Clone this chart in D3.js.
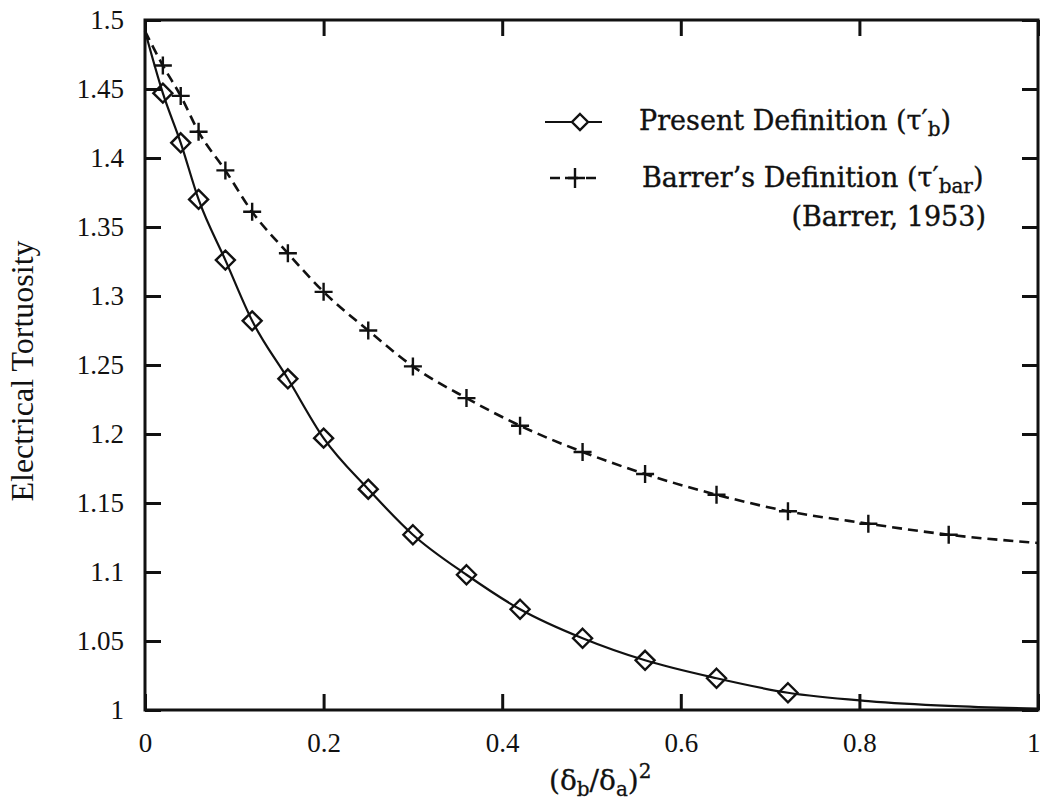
<!DOCTYPE html>
<html>
<head>
<meta charset="utf-8">
<script src="https://cdn.jsdelivr.net/npm/d3@7/dist/d3.min.js"></script>
<style>
  html, body { margin: 0; padding: 0; background: #fff; }
  svg { display: block; }
</style>
</head>
<body>
<svg id="chart" width="1041" height="806"></svg>
<script>
// Squared thickness ratio (δb/δa)^2 at which the tortuosity was evaluated
const ratioSq = [0, 0.02, 0.04, 0.06, 0.09, 0.12, 0.16, 0.2, 0.25, 0.3, 0.36, 0.42, 0.49, 0.56, 0.64, 0.72, 0.81, 0.9, 1.0];
// Present definition τ'_b
const presentTau = [1.492, 1.447, 1.411, 1.370, 1.326, 1.282, 1.240, 1.197, 1.160, 1.127, 1.098, 1.073, 1.052, 1.036, 1.023, 1.0125, 1.0065, 1.003, 1.001];
// Barrer's definition τ'_bar (Barrer, 1953)
const barrerTau = [1.492, 1.467, 1.445, 1.419, 1.391, 1.361, 1.331, 1.303, 1.275, 1.249, 1.226, 1.206, 1.187, 1.171, 1.156, 1.144, 1.135, 1.127, 1.121];
// Which samples carry a plotted symbol
const presentMarked = [false, true, true, true, true, true, true, true, true, true, true, true, true, true, true, true, false, false, false];
const barrerMarked  = [false, true, true, true, true, true, true, true, true, true, true, true, true, true, true, true, true, true, false];

const xTicks = [0, 0.2, 0.4, 0.6, 0.8, 1];
const yTicks = [1, 1.05, 1.1, 1.15, 1.2, 1.25, 1.3, 1.35, 1.4, 1.45, 1.5];
const xTickLabels = ["0", "0.2", "0.4", "0.6", "0.8", "1"];
const yTickLabels = ["1", "1.05", "1.1", "1.15", "1.2", "1.25", "1.3", "1.35", "1.4", "1.45", "1.5"];

const svg = d3.select("#chart");
const m = { left: 145, right: 1038, top: 20, bottom: 710 };

const x = d3.scaleLinear().domain([0, 1]).range([m.left, m.right]);
const y = d3.scaleLinear().domain([1, 1.5]).range([m.bottom, m.top]);

const tickFont = "'Liberation Serif', 'Times New Roman', serif";
const legendFont = "'DejaVu Serif', serif";
const ink = "#111";
const tickLen = 16;

// Axes: ticks drawn inward on all four sides
const axisG = svg.append("g");
function styleAxis(g) {
  g.select(".domain").remove();
  g.selectAll(".tick line").attr("stroke", ink).attr("stroke-width", 3);
  g.selectAll(".tick text").attr("font-family", tickFont).attr("font-size", 27).attr("fill", ink);
}
const bottomAxis = axisG.append("g").attr("transform", `translate(0,${m.bottom})`)
  .call(d3.axisBottom(x).tickValues(xTicks).tickFormat((d, i) => xTickLabels[i]).tickSizeInner(-tickLen).tickPadding(23))
  .call(styleAxis);
// the last label sits at the page edge; keep it inside the page
bottomAxis.selectAll(".tick text").filter(d => d === 1)
  .attr("text-anchor", "end").attr("x", 1041 - m.right - 1);
axisG.append("g").attr("transform", `translate(0,${m.top})`)
  .call(d3.axisTop(x).tickValues(xTicks).tickFormat("").tickSizeInner(-tickLen))
  .call(styleAxis);
axisG.append("g").attr("transform", `translate(${m.left},0)`)
  .call(d3.axisLeft(y).tickValues(yTicks).tickFormat((d, i) => yTickLabels[i]).tickSizeInner(-tickLen).tickPadding(21))
  .call(styleAxis);
axisG.append("g").attr("transform", `translate(${m.right},0)`)
  .call(d3.axisRight(y).tickValues(yTicks).tickFormat("").tickSizeInner(-tickLen))
  .call(styleAxis);

// Plot frame
svg.append("rect")
  .attr("x", m.left).attr("y", m.top)
  .attr("width", m.right - m.left).attr("height", m.bottom - m.top)
  .attr("fill", "none").attr("stroke", ink).attr("stroke-width", 3);

// Curves
const line = d3.line().x(d => x(d[0])).y(d => y(d[1])).curve(d3.curveMonotoneX);
const presentPts = ratioSq.map((r, i) => [r, presentTau[i]]);
const barrerPts = ratioSq.map((r, i) => [r, barrerTau[i]]);

svg.append("path").datum(barrerPts).attr("d", line)
  .attr("fill", "none").attr("stroke", ink).attr("stroke-width", 2.6)
  .attr("stroke-dasharray", "10,6");
svg.append("path").datum(presentPts).attr("d", line)
  .attr("fill", "none").attr("stroke", ink).attr("stroke-width", 2.2);

// Symbols
const diamond = (cx, cy, r) => `M${cx},${cy - r}L${cx + r},${cy}L${cx},${cy + r}L${cx - r},${cy}Z`;
const plus = (cx, cy, r) => `M${cx - r},${cy}H${cx + r}M${cx},${cy - r}V${cy + r}`;

svg.append("g").selectAll("path")
  .data(barrerPts.filter((d, i) => barrerMarked[i]))
  .join("path")
  .attr("d", d => plus(x(d[0]), y(d[1]), 9))
  .attr("stroke", ink).attr("stroke-width", 2.4).attr("fill", "none");

svg.append("g").selectAll("path")
  .data(presentPts.filter((d, i) => presentMarked[i]))
  .join("path")
  .attr("d", d => diamond(x(d[0]), y(d[1]), 9.5))
  .attr("stroke", ink).attr("stroke-width", 2.4).attr("fill", "none");

// Legend
const lg = svg.append("g");
lg.append("line").attr("x1", 545).attr("x2", 602).attr("y1", 122).attr("y2", 122)
  .attr("stroke", ink).attr("stroke-width", 2.2);
lg.append("path").attr("d", diamond(580, 122, 8)).attr("stroke", ink).attr("stroke-width", 2.4).attr("fill", "#fff");
lg.append("line").attr("x1", 550).attr("x2", 600).attr("y1", 178).attr("y2", 178)
  .attr("stroke", ink).attr("stroke-width", 2.6).attr("stroke-dasharray", "10,8");
lg.append("path").attr("d", plus(575, 178, 10)).attr("stroke", ink).attr("stroke-width", 2.4);

function legendText(xPos, yPos) {
  return lg.append("text").attr("x", xPos).attr("y", yPos)
    .attr("font-family", legendFont).attr("font-size", 27).attr("fill", ink)
    .attr("stroke", ink).attr("stroke-width", 0.35);
}
const t1 = legendText(639, 130);
t1.append("tspan").text("Present Definition  (τ′");
t1.append("tspan").attr("baseline-shift", "-30%").attr("font-size", 20).text("b");
t1.append("tspan").text(")");

const t2 = legendText(642, 187);
t2.append("tspan").text("Barrer’s Definition  (τ′");
t2.append("tspan").attr("baseline-shift", "-30%").attr("font-size", 20).text("bar");
t2.append("tspan").text(")");

legendText(986, 226).attr("text-anchor", "end").text("(Barrer, 1953)");

// Axis titles
svg.append("text")
  .attr("transform", "translate(33,371) rotate(-90)")
  .attr("text-anchor", "middle")
  .attr("font-family", tickFont).attr("font-size", 32).attr("fill", ink)
  .text("Electrical Tortuosity");

const xt = svg.append("text").attr("x", 549).attr("y", 790)
  .attr("font-family", legendFont).attr("font-size", 28).attr("fill", ink)
  .attr("stroke", ink).attr("stroke-width", 0.3);
xt.append("tspan").text("(δ");
xt.append("tspan").attr("baseline-shift", "-30%").attr("font-size", 20).text("b");
xt.append("tspan").text("/δ");
xt.append("tspan").attr("baseline-shift", "-30%").attr("font-size", 20).text("a");
xt.append("tspan").text(")");
xt.append("tspan").attr("baseline-shift", "60%").attr("font-size", 20).text("2");
</script>
</body>
</html>
